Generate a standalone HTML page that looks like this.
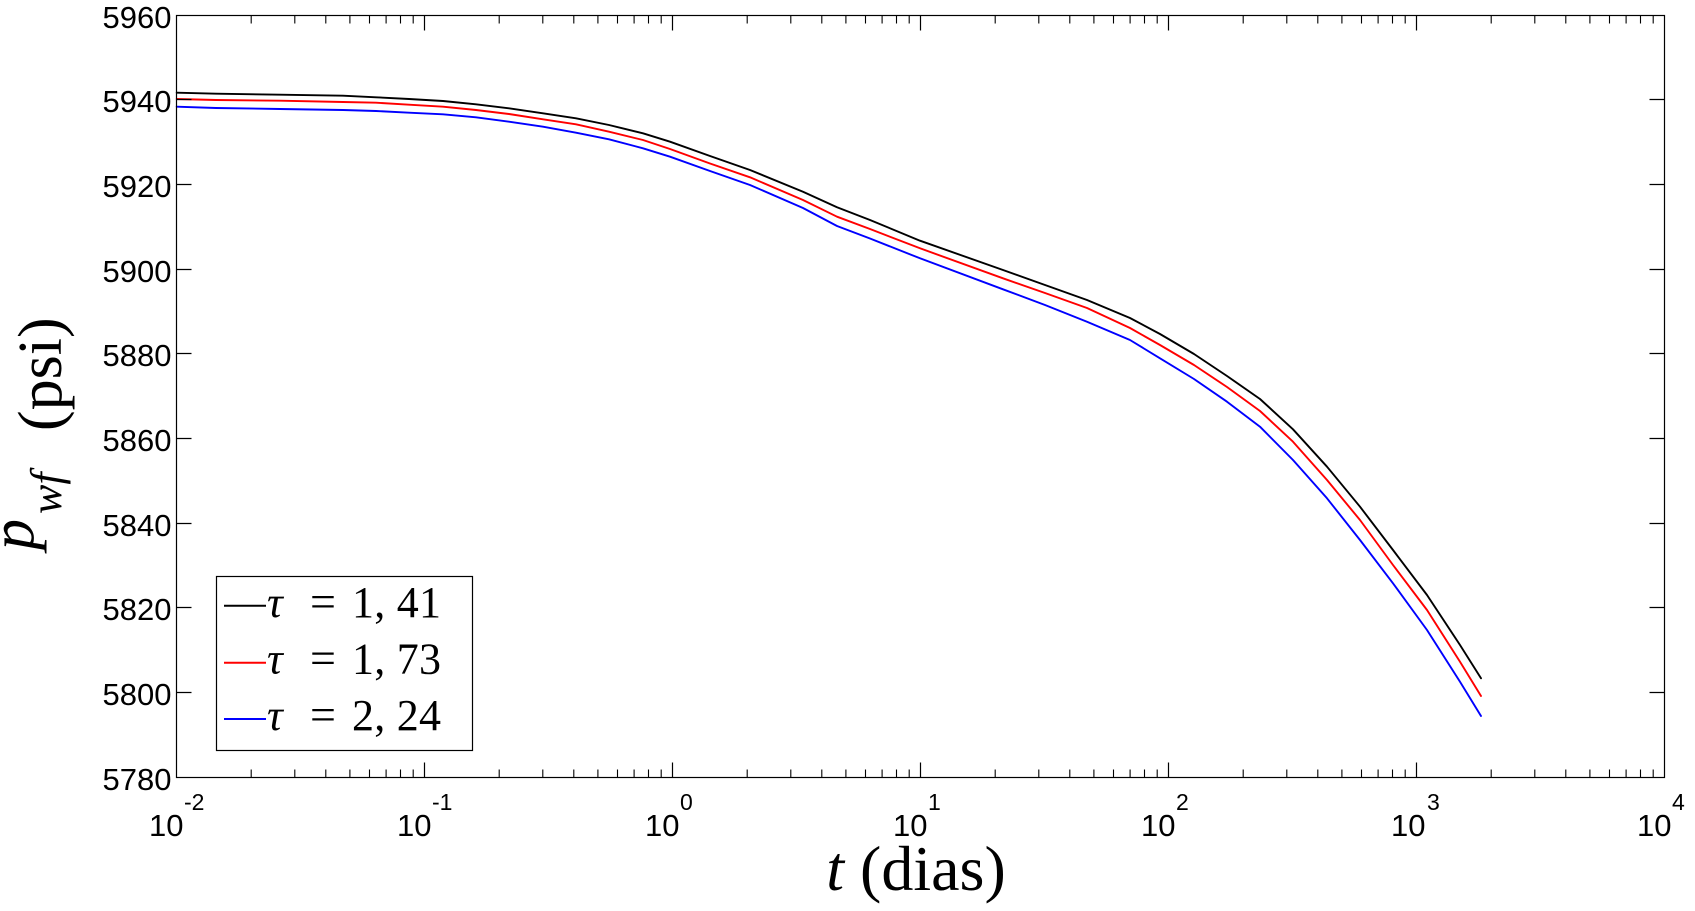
<!DOCTYPE html>
<html>
<head>
<meta charset="utf-8">
<style>
  html, body { margin:0; padding:0; background:#fff; }
  body { width:1695px; height:911px; overflow:hidden; }
  svg { display:block; }
</style>
</head>
<body>
<svg width="1695" height="911" viewBox="0 0 1695 911" xmlns="http://www.w3.org/2000/svg">
  <rect x="0" y="0" width="1695" height="911" fill="#fff"/>

  <!-- curves -->
  <g fill="none" stroke-width="1.9" stroke-linejoin="round" stroke-linecap="round">
    <polyline stroke="#000000" points="176.7,92.7 216,93.7 280,94.7 343,95.7 376,97.3 409,99 443,101 476,104.3 509,108.3 543,113.3 576,118.3 609,125 643,133.3 670,141.7 710,156 750,170 803,191.7 837,207.3 870,220 920,240.7 1003,270 1045,285 1087,300 1130,318 1160,334 1194,354 1227,376 1260,399 1293,429.3 1327,466.7 1360,506.7 1393,550 1427,595 1460,645 1481,678.3"/>
    <polyline stroke="#ff0000" points="176.7,99 216,100 280,100.7 343,102 376,102.7 409,104.7 443,106.7 476,110 509,114 543,119.3 576,124.3 609,131.7 643,140 670,149 710,163.5 750,177.3 803,200 837,216.7 870,229 920,248.3 1003,278.3 1045,293 1087,308 1130,328 1160,345 1194,365 1227,387 1260,411 1293,441.7 1327,480 1360,520 1393,565 1427,610 1460,661.7 1481,696"/>
    <polyline stroke="#0000ff" points="176.7,106.7 216,108 280,109 343,110 376,111 409,112.7 443,114.3 476,117.3 509,121.7 543,126.7 576,132.7 609,139.3 643,148.3 670,156.7 710,171 750,185 803,208 837,226 870,238.5 920,258.3 1003,289.3 1045,305 1087,321.7 1130,340 1160,358.3 1194,379 1227,401.7 1260,426.7 1293,460 1327,498.3 1360,540 1393,583.3 1427,630 1460,681.7 1481,716"/>
  </g>

  <!-- axes box -->
  <rect x="176.5" y="15.5" width="1488" height="762" fill="none" stroke="#000" stroke-width="1.2"/>

  <!-- y ticks -->
  <path stroke="#000" stroke-width="1.2" fill="none" d="
    M176.5,692.5 H191.5 M176.5,607.5 H191.5 M176.5,523.5 H191.5 M176.5,438.5 H191.5 M176.5,353.5 H191.5 M176.5,269.5 H191.5 M176.5,184.5 H191.5 M176.5,99.5 H191.5
    M1664.5,692.5 H1649.5 M1664.5,607.5 H1649.5 M1664.5,523.5 H1649.5 M1664.5,438.5 H1649.5 M1664.5,353.5 H1649.5 M1664.5,269.5 H1649.5 M1664.5,184.5 H1649.5 M1664.5,99.5 H1649.5"/>

  <!-- x major ticks -->
  <path stroke="#000" stroke-width="1.2" fill="none" d="
    M424.5,777.5 V762.5 M672.5,777.5 V762.5 M920.5,777.5 V762.5 M1168.5,777.5 V762.5 M1416.5,777.5 V762.5
    M424.5,15.5 V30.5 M672.5,15.5 V30.5 M920.5,15.5 V30.5 M1168.5,15.5 V30.5 M1416.5,15.5 V30.5"/>

  <!-- x minor ticks -->
  <path stroke="#000" stroke-width="1.1" fill="none" d="
    M251.2,777.5 V769.5 M294.8,777.5 V769.5 M325.8,777.5 V769.5 M349.9,777.5 V769.5 M369.5,777.5 V769.5 M386.1,777.5 V769.5 M400.5,777.5 V769.5 M413.2,777.5 V769.5
    M499.2,777.5 V769.5 M542.8,777.5 V769.5 M573.8,777.5 V769.5 M597.9,777.5 V769.5 M617.5,777.5 V769.5 M634.1,777.5 V769.5 M648.5,777.5 V769.5 M661.2,777.5 V769.5
    M747.2,777.5 V769.5 M790.8,777.5 V769.5 M821.8,777.5 V769.5 M845.9,777.5 V769.5 M865.5,777.5 V769.5 M882.1,777.5 V769.5 M896.5,777.5 V769.5 M909.2,777.5 V769.5
    M995.2,777.5 V769.5 M1038.8,777.5 V769.5 M1069.8,777.5 V769.5 M1093.9,777.5 V769.5 M1113.5,777.5 V769.5 M1130.1,777.5 V769.5 M1144.5,777.5 V769.5 M1157.2,777.5 V769.5
    M1243.2,777.5 V769.5 M1286.8,777.5 V769.5 M1317.8,777.5 V769.5 M1341.9,777.5 V769.5 M1361.5,777.5 V769.5 M1378.1,777.5 V769.5 M1392.5,777.5 V769.5 M1405.2,777.5 V769.5
    M1491.2,777.5 V769.5 M1534.8,777.5 V769.5 M1565.8,777.5 V769.5 M1589.9,777.5 V769.5 M1609.5,777.5 V769.5 M1626.1,777.5 V769.5 M1640.5,777.5 V769.5 M1653.2,777.5 V769.5
    M251.2,15.5 V23.5 M294.8,15.5 V23.5 M325.8,15.5 V23.5 M349.9,15.5 V23.5 M369.5,15.5 V23.5 M386.1,15.5 V23.5 M400.5,15.5 V23.5 M413.2,15.5 V23.5
    M499.2,15.5 V23.5 M542.8,15.5 V23.5 M573.8,15.5 V23.5 M597.9,15.5 V23.5 M617.5,15.5 V23.5 M634.1,15.5 V23.5 M648.5,15.5 V23.5 M661.2,15.5 V23.5
    M747.2,15.5 V23.5 M790.8,15.5 V23.5 M821.8,15.5 V23.5 M845.9,15.5 V23.5 M865.5,15.5 V23.5 M882.1,15.5 V23.5 M896.5,15.5 V23.5 M909.2,15.5 V23.5
    M995.2,15.5 V23.5 M1038.8,15.5 V23.5 M1069.8,15.5 V23.5 M1093.9,15.5 V23.5 M1113.5,15.5 V23.5 M1130.1,15.5 V23.5 M1144.5,15.5 V23.5 M1157.2,15.5 V23.5
    M1243.2,15.5 V23.5 M1286.8,15.5 V23.5 M1317.8,15.5 V23.5 M1341.9,15.5 V23.5 M1361.5,15.5 V23.5 M1378.1,15.5 V23.5 M1392.5,15.5 V23.5 M1405.2,15.5 V23.5
    M1491.2,15.5 V23.5 M1534.8,15.5 V23.5 M1565.8,15.5 V23.5 M1589.9,15.5 V23.5 M1609.5,15.5 V23.5 M1626.1,15.5 V23.5 M1640.5,15.5 V23.5 M1653.2,15.5 V23.5"/>

  <!-- y tick labels -->
  <g font-family="'Liberation Sans', Arial, sans-serif" font-size="31" fill="#000" text-anchor="end">
    <text x="171.5" y="790">5780</text>
    <text x="171.5" y="705">5800</text>
    <text x="171.5" y="620">5820</text>
    <text x="171.5" y="536">5840</text>
    <text x="171.5" y="451">5860</text>
    <text x="171.5" y="366">5880</text>
    <text x="171.5" y="282">5900</text>
    <text x="171.5" y="197">5920</text>
    <text x="171.5" y="112">5940</text>
    <text x="171.5" y="28">5960</text>
  </g>

  <!-- x tick labels -->
  <g font-family="'Liberation Sans', Arial, sans-serif" fill="#000">
    <text x="183.5" y="836" font-size="31" text-anchor="end">10</text>
    <text x="184" y="810" font-size="23">-2</text>
    <text x="431.5" y="836" font-size="31" text-anchor="end">10</text>
    <text x="432" y="810" font-size="23">-1</text>
    <text x="679.5" y="836" font-size="31" text-anchor="end">10</text>
    <text x="680" y="810" font-size="23">0</text>
    <text x="927.5" y="836" font-size="31" text-anchor="end">10</text>
    <text x="928" y="810" font-size="23">1</text>
    <text x="1175.5" y="836" font-size="31" text-anchor="end">10</text>
    <text x="1176" y="810" font-size="23">2</text>
    <text x="1425.5" y="836" font-size="31" text-anchor="end">10</text>
    <text x="1427" y="810" font-size="23">3</text>
    <text x="1671.5" y="836" font-size="31" text-anchor="end">10</text>
    <text x="1672" y="810" font-size="23">4</text>
  </g>

  <!-- x label -->
  <text x="916" y="890" font-family="'Liberation Serif', 'Times New Roman', serif" font-size="64" text-anchor="middle" fill="#000"><tspan font-style="italic">t</tspan> (dias)</text>

  <!-- y label (rotated) -->
  <g font-family="'Liberation Serif', 'Times New Roman', serif" fill="#000">
    <text transform="translate(33,550) rotate(-90)" font-size="62" font-style="italic">p</text>
    <text transform="translate(61,514) rotate(-90)" font-size="44" font-style="italic">wf</text>
    <text transform="translate(61,431) rotate(-90)" font-size="62">(psi)</text>
  </g>

  <!-- legend -->
  <rect x="216.5" y="576.5" width="256" height="174" fill="#fff" stroke="#000" stroke-width="1.2"/>
  <line x1="224" y1="605.7" x2="266" y2="605.7" stroke="#000" stroke-width="2"/>
  <line x1="224" y1="662.7" x2="266" y2="662.7" stroke="#ff0000" stroke-width="2"/>
  <line x1="224" y1="719" x2="266" y2="719" stroke="#0000ff" stroke-width="2"/>
  <g font-family="'Liberation Serif', 'Times New Roman', serif" font-size="44" fill="#000">
    <text x="267" y="617" font-style="italic">τ</text>
    <text x="310" y="617" font-size="46">=</text>
    <text x="352" y="617" textLength="89" lengthAdjust="spacing">1, 41</text>

    <text x="267" y="673.5" font-style="italic">τ</text>
    <text x="310" y="673.5" font-size="46">=</text>
    <text x="352" y="673.5" textLength="89" lengthAdjust="spacing">1, 73</text>

    <text x="267" y="730" font-style="italic">τ</text>
    <text x="310" y="730" font-size="46">=</text>
    <text x="352" y="730" textLength="89" lengthAdjust="spacing">2, 24</text>
  </g>
</svg>
</body>
</html>
